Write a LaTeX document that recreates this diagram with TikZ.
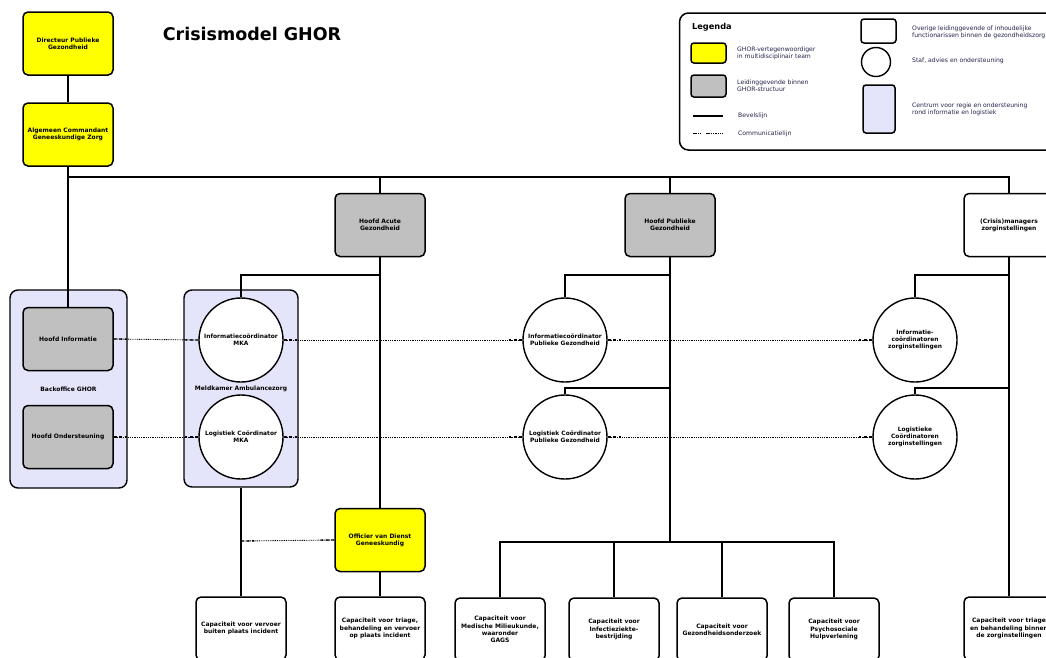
\documentclass[tikz,border=0pt]{standalone}
\usepackage{fontspec}
\setmainfont{DejaVu Sans}
\usetikzlibrary{calc}
\definecolor{ghoryellow}{RGB}{255,255,0}
\definecolor{ghorgray}{RGB}{192,192,192}
\definecolor{ghorlav}{RGB}{228,228,250}
\definecolor{legtext}{RGB}{35,35,75}
\tikzset{
  boxbase/.style={draw, line width=1.5pt, rounded corners=5pt, minimum width=90pt, minimum height=63pt, align=center, inner sep=1pt, font=\bfseries\fontsize{6}{7.2}\selectfont},
  yellowbox/.style={boxbase, fill=ghoryellow},
  graybox/.style={boxbase, fill=ghorgray},
  whitebox/.style={boxbase, fill=white},
  container/.style={draw, line width=1.4pt, rounded corners=8pt, fill=ghorlav, align=center, inner sep=0pt, font=\bfseries\fontsize{6}{7.2}\selectfont},
  staff/.style={draw, circle, line width=1.4pt, fill=white, minimum size=84pt, inner sep=0pt, align=center, font=\bfseries\fontsize{5.9}{7.2}\selectfont},
  cmd/.style={line width=1.3pt},
  comm/.style={line width=0.9pt, dash pattern=on 0.9pt off 0.9pt},
  commend/.style={line width=1.3pt, dash pattern=on 3pt off 2.5pt},
  legtxt/.style={anchor=west, align=left, inner sep=0pt, text=legtext, font=\fontsize{6.1}{7.3}\selectfont},
  legbox/.style={draw, line width=1.5pt, rounded corners=3pt, inner sep=0pt}
}
\newcommand{\commline}[2]{%
  \draw[comm] (#1) -- (#2);
  \draw[commend] (#1) -- ($(#1)!13pt!(#2)$);
  \draw[commend] (#2) -- ($(#2)!13pt!(#1)$);
}
\begin{document}
\begin{tikzpicture}[x=1pt,y=-1pt]
\useasboundingbox (0,0) rectangle (1046,657);
\clip (0,0) rectangle (1046,657);
\fill[white] (0,0) rectangle (1046,657);

% title
\node[font=\bfseries\fontsize{17.5}{20}\selectfont, inner sep=0pt] (title) at (252,34) {Crisismodel GHOR};

% legend
\node[draw, line width=1.5pt, rounded corners=9pt, minimum width=380pt, minimum height=137pt, inner sep=0pt] (legend) at (869.5,81.5) {};
\node[anchor=west, inner sep=0pt, font=\bfseries\fontsize{8.2}{9}\selectfont] (legtitle) at (692,27) {Legenda};
\node[legbox, fill=ghoryellow, minimum width=35pt, minimum height=20pt] (lyel) at (708.5,53) {};
\node[legtxt] (lyeltxt) at (737,53) {GHOR-vertegenwoordiger\\in multidisciplinair team};
\node[legbox, fill=ghorgray, minimum width=35pt, minimum height=22pt] (lgray) at (708.5,86) {};
\node[legtxt] (lgraytxt) at (737,86) {Leidinggevende binnen\\GHOR-structuur};
\coordinate (lsolA) at (693,116);
\coordinate (lsolB) at (723,116);
\draw[cmd] (lsolA) -- (lsolB);
\node[legtxt] (lsoltxt) at (738,116) {Bevelslijn};
\coordinate (ldotA) at (693,133);
\coordinate (ldotB) at (700,133);
\coordinate (ldotC) at (706,133);
\coordinate (ldotD) at (723,133);
\draw[line width=1pt, dash pattern=on 1.5pt off 0.8pt] (ldotA) -- (ldotB);
\draw[line width=1pt, dash pattern=on 1.5pt off 0.8pt] (ldotC) -- (ldotD);
\node[legtxt] (ldottxt) at (738,134) {Communicatielijn};
\node[legbox, fill=white, minimum width=35pt, minimum height=24pt] (lwhite) at (878.5,31) {};
\node[legtxt] (lwhitetxt) at (912,32) {Overige leidinggevende of inhoudelijke\\functionarissen binnen de gezondheidszorg};
\node[draw, circle, line width=1.4pt, minimum size=29pt, inner sep=0pt] (lcirc) at (876,62) {};
\node[legtxt] (lcirctxt) at (912,61) {Staf, advies en ondersteuning};
\node[legbox, fill=ghorlav, minimum width=32pt, minimum height=48pt] (llav) at (879,109) {};
\node[legtxt] (llavtxt) at (912,109) {Centrum voor regie en ondersteuning\\rond informatie en logistiek};

% containers
\node[container, minimum width=117pt, minimum height=198pt] (backoffice) at (68.5,389) {Backoffice GHOR};
\node[container, minimum width=114pt, minimum height=197pt] (meldkamer) at (241,388.5) {Meldkamer Ambulancezorg};

% top boxes
\node[yellowbox] (dir) at (68,43.5) {Directeur Publieke\\Gezondheid};
\node[yellowbox] (acgz) at (68,134.5) {Algemeen Commandant\\Geneeskundige Zorg};
\node[graybox] (hacute) at (380,225) {Hoofd Acute\\Gezondheid};
\node[graybox] (hpubl) at (670,225) {Hoofd Publieke\\Gezondheid};
\node[whitebox] (crisis) at (1009,225) {(Crisis)managers\\zorginstellingen};

% backoffice content
\node[graybox] (hinfo) at (68,339) {Hoofd Informatie};
\node[graybox] (hond) at (68,437) {Hoofd Ondersteuning};

% circles
\node[staff] (mkainfo) at (241,340) {Informatiecoördinator\\MKA};
\node[staff] (mkalog) at (241,437) {Logistiek Coördinator\\MKA};
\node[staff] (pinfo) at (565,340) {Informatiecoördinator\\Publieke Gezondheid};
\node[staff] (plog) at (565,437) {Logistiek Coördinator\\Publieke Gezondheid};
\node[staff] (zinfo) at (915,340) {Informatie-\\coördinatoren\\zorginstellingen};
\node[staff] (zlog) at (915,437) {Logistieke\\Coördinatoren\\zorginstellingen};

% officier
\node[yellowbox] (ovdg) at (380,540) {Officier van Dienst\\Geneeskundig};

% bottom boxes
\node[whitebox] (capvervoer) at (241,628.5) {Capaciteit voor vervoer\\buiten plaats incident};
\node[whitebox] (captriage) at (380,628.5) {Capaciteit voor triage,\\behandeling en vervoer\\op plaats incident};
\node[whitebox] (capmed) at (500,629.5) {Capaciteit voor\\Medische Milieukunde,\\waaronder\\GAGS};
\node[whitebox] (capinf) at (614,629.5) {Capaciteit voor\\Infectieziekte-\\bestrijding};
\node[whitebox] (capgez) at (722,629.5) {Capaciteit voor\\Gezondheidsonderzoek};
\node[whitebox] (cappsy) at (834,629.5) {Capaciteit voor\\Psychosociale\\Hulpverlening};
\node[whitebox] (capzorg) at (1009,628.5) {Capaciteit voor triage\\en behandeling binnen\\de zorginstellingen};

% command lines
\coordinate (topbar) at (68,177);
\coordinate (acutebar) at (380,275);
\coordinate (publbar1) at (670,275);
\coordinate (publbar2) at (670,388);
\coordinate (publbar3) at (670,542);
\coordinate (zorgbar1) at (1009,275);
\coordinate (zorgbar2) at (1009,388);
\coordinate (mkdot) at (241,541);

\draw[cmd] (dir.south) -- (acgz.north);
\draw[cmd] (acgz.south) -- (hinfo.north);
\draw[cmd] (topbar) -| (hacute.north);
\draw[cmd] (topbar) -| (hpubl.north);
\draw[cmd] (topbar) -| (crisis.north);
\draw[cmd] (hacute.south) -- (ovdg.north);
\draw[cmd] (acutebar) -| (mkainfo.north);
\draw[cmd] (meldkamer.south) -- (capvervoer.north);
\draw[cmd] (ovdg.south) -- (captriage.north);
\draw[cmd] (hpubl.south) -- (publbar3);
\draw[cmd] (publbar1) -| (pinfo.north);
\draw[cmd] (publbar2) -| (plog.north);
\draw[cmd] (publbar3) -| (capmed.north);
\draw[cmd] (publbar3) -| (capinf.north);
\draw[cmd] (publbar3) -| (capgez.north);
\draw[cmd] (publbar3) -| (cappsy.north);
\draw[cmd] (crisis.south) -- (capzorg.north);
\draw[cmd] (zorgbar1) -| (zinfo.north);
\draw[cmd] (zorgbar2) -| (zlog.north);

% communication lines
\commline{hinfo.east}{mkainfo.west}
\commline{mkainfo.east}{pinfo.west}
\commline{pinfo.east}{zinfo.west}
\commline{hond.east}{mkalog.west}
\commline{mkalog.east}{plog.west}
\commline{plog.east}{zlog.west}
\commline{mkdot}{ovdg.west}
\end{tikzpicture}
\end{document}
